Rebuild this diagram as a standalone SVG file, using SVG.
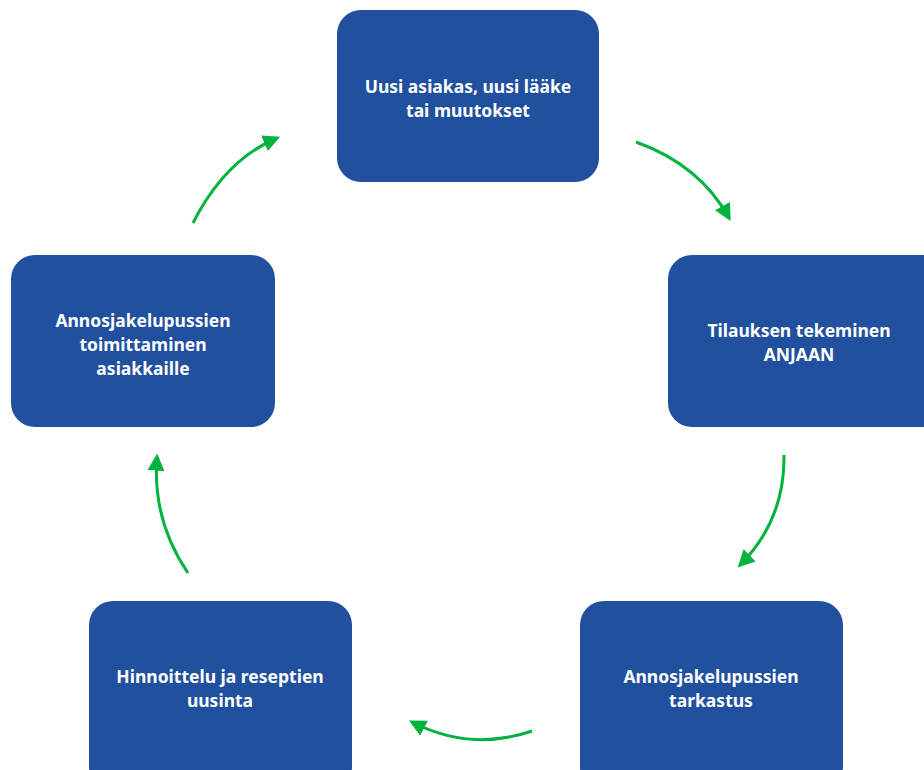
<svg xmlns="http://www.w3.org/2000/svg" width="924" height="770" viewBox="0 0 924 770">
<style>
.box{fill:#20509e;}
.t{font-family:"Noto Sans","Open Sans",sans-serif;font-weight:bold;font-size:17.5px;fill:#ffffff;text-anchor:middle;}
.c{fill:none;stroke:#00b33c;stroke-width:3;}
</style>
<defs>
<marker id="ah" viewBox="0 0 10 10" refX="8" refY="5" markerWidth="17" markerHeight="17" markerUnits="userSpaceOnUse" orient="auto">
<path d="M0,0 L10,5 L0,10 Z" fill="#00b33c"/>
</marker>
</defs>
<rect width="924" height="770" fill="#ffffff"/>
<g id="n1"><rect class="box" x="337" y="10" width="262" height="172" rx="24"/>
<text class="t" x="468" y="93">Uusi asiakas, uusi lääke</text>
<text class="t" x="468" y="117">tai muutokset</text></g>
<g id="n2"><rect class="box" x="668" y="255" width="280" height="172" rx="24"/>
<text class="t" x="799" y="337">Tilauksen tekeminen</text>
<text class="t" x="799" y="361">ANJAAN</text></g>
<g id="n3"><rect class="box" x="580" y="601" width="263" height="190" rx="24"/>
<text class="t" x="711" y="683">Annosjakelupussien</text>
<text class="t" x="711" y="707">tarkastus</text></g>
<g id="n4"><rect class="box" x="89" y="601" width="263" height="190" rx="24"/>
<text class="t" x="220" y="683">Hinnoittelu ja reseptien</text>
<text class="t" x="220" y="707">uusinta</text></g>
<g id="n5"><rect class="box" x="11" y="255" width="264" height="172" rx="24"/>
<text class="t" x="143" y="327">Annosjakelupussien</text>
<text class="t" x="143" y="351">toimittaminen</text>
<text class="t" x="143" y="375">asiakkaille</text></g>
<g id="connectors">
<path class="c" d="M636,142 Q700,165 729,218" marker-end="url(#ah)"/>
<path class="c" d="M784,455 Q785,520 740,565" marker-end="url(#ah)"/>
<path class="c" d="M532,731 Q470,752 412,722" marker-end="url(#ah)"/>
<path class="c" d="M188,573 Q152,520 157,457" marker-end="url(#ah)"/>
<path class="c" d="M193,223 Q225,160 277,138" marker-end="url(#ah)"/>
</g>
</svg>
